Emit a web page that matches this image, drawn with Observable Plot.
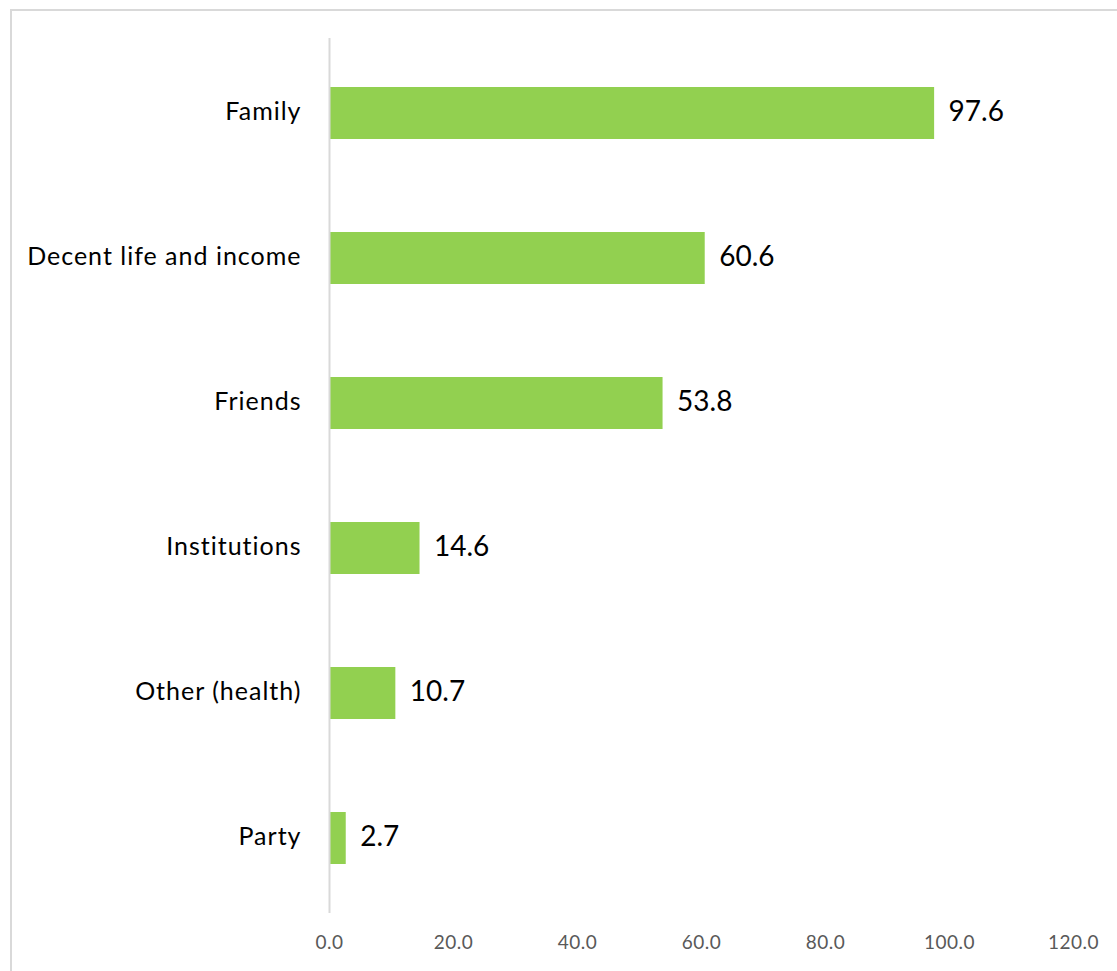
<!DOCTYPE html>
<html><head><meta charset="utf-8">
<script src="https://cdn.jsdelivr.net/npm/d3@7"></script>
<script src="https://cdn.jsdelivr.net/npm/@observablehq/plot@0.6"></script>
<style>
body{margin:0;background:#fff;font-family:Lato,"Open Sans",sans-serif}
#wrap{position:relative;width:1117px;height:971px;overflow:hidden;background:#fff}
#border{position:absolute;left:10px;top:9px;width:1200px;height:1100px;border:2px solid #d9d9d9;box-sizing:border-box;pointer-events:none}
#wrap svg{position:absolute;left:0;top:0}
g[aria-label="y-axis tick label"]{letter-spacing:1px}
g[aria-label="x-axis tick label"]{letter-spacing:0.5px}
</style></head><body><div id="wrap"><div id="border"></div></div>
<script>
const categories = ["Family","Decent life and income","Friends","Institutions","Other (health)","Party"];
const values = [97.6,60.6,53.8,14.6,10.7,2.7];
const xTicks = [0,20,40,60,80,100,120];
const data = categories.map((c,i)=>({category:c,value:values[i]}));
const chart = Plot.plot({
  width:1117, height:971, marginLeft:329, marginRight:44, marginTop:38, marginBottom:58,
  style:{fontFamily:"Lato", background:"transparent"},
  x:{domain:[0,120], label:null},
  y:{domain:categories, paddingInner:0.64, paddingOuter:0.32, label:null},
  marks:[
    Plot.axisX({ticks:xTicks, tickFormat:d=>d.toFixed(1), tickSize:0, tickPadding:22, fontSize:19, color:"#595959", label:null}),
    Plot.axisY({tickSize:0, tickPadding:28, fontSize:25, color:"#000", label:null, dy:-2}),
    Plot.barX(data,{x:"value",y:"category",fill:"#92D050"}),
    Plot.ruleX([0],{stroke:"#d9d9d9", strokeWidth:2}),
    Plot.text(data,{x:"value",y:"category",text:d=>d.value.toFixed(1),textAnchor:"start",dx:14,dy:-1,fontSize:28,fill:"#000"})
  ]
});
document.getElementById("wrap").appendChild(chart);
</script>
</body></html>
